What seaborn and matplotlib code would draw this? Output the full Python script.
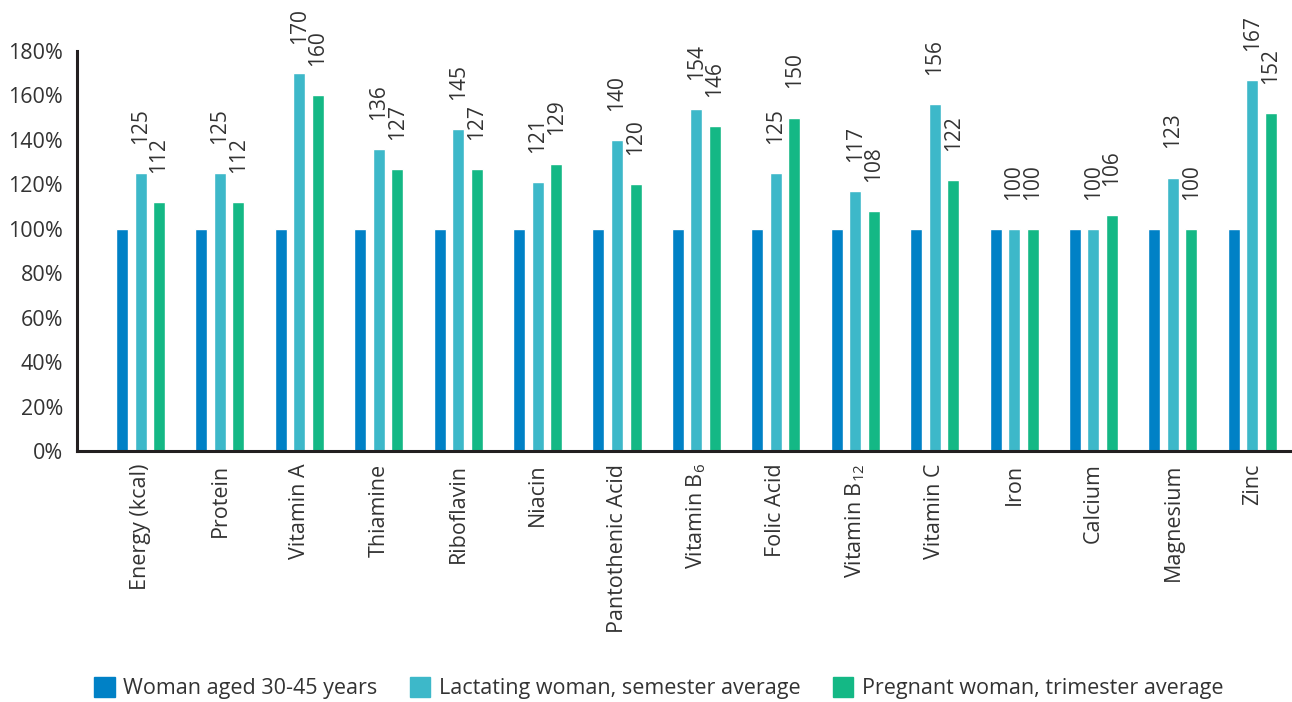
import matplotlib
matplotlib.use("Agg")
import matplotlib.pyplot as plt
from matplotlib.ticker import FuncFormatter
import seaborn as sns
import pandas as pd

nutrients = [
    "Energy (kcal)", "Protein", "Vitamin A", "Thiamine", "Riboflavin",
    "Niacin", "Pantothenic Acid", r"Vitamin B$\mathregular{_6}$", "Folic Acid",
    r"Vitamin B$\mathregular{_{12}}$", "Vitamin C", "Iron", "Calcium",
    "Magnesium", "Zinc",
]
groups = [
    "Woman aged 30-45 years",
    "Lactating woman, semester average",
    "Pregnant woman, trimester average",
]
woman = [100] * 15
lactating = [125, 125, 170, 136, 145, 121, 140, 154, 125, 117, 156, 100, 100, 123, 167]
pregnant = [112, 112, 160, 127, 127, 129, 120, 146, 150, 108, 122, 100, 106, 100, 152]
colors = ["#0081C6", "#3DB8C9", "#14B885"]
y_ticks = [0, 20, 40, 60, 80, 100, 120, 140, 160, 180]

sns.set_theme(style="white")
plt.rcParams["font.family"] = ["Open Sans", "DejaVu Sans"]
plt.rcParams["mathtext.fontset"] = "custom"
plt.rcParams["mathtext.rm"] = "Open Sans"

df = pd.DataFrame({
    "nutrient": nutrients * 3,
    "group": [g for g in groups for _ in nutrients],
    "value": woman + lactating + pregnant,
})

fig = plt.figure(figsize=(12.92, 7.02), dpi=100)
ax = fig.add_axes([0.0596, 0.3575, 0.9404, 0.570])

sns.barplot(data=df, x="nutrient", y="value", hue="group", hue_order=groups,
            palette=colors, width=0.7, gap=0.35, saturation=1, ax=ax,
            legend=False)

text_color = "#333333"
fs = 15.5
for cont in ax.containers[1:]:
    ax.bar_label(cont, fmt="%d", rotation=90, padding=21, fontsize=15,
                 color=text_color)

ax.set_ylim(0, 180)
ax.set_xlim(-0.8, 14.5)
ax.set_yticks(y_ticks)
ax.yaxis.set_major_formatter(FuncFormatter(lambda v, p: f"{v:.0f}%"))
ax.tick_params(axis="y", length=0, pad=10, labelsize=fs, labelcolor=text_color)
ax.tick_params(axis="x", length=0, pad=9, labelsize=fs, labelcolor=text_color,
               labelrotation=90)
ax.set_xlabel("")
ax.set_ylabel("")
for s in ["top", "right"]:
    ax.spines[s].set_visible(False)
for s in ["left", "bottom"]:
    ax.spines[s].set_color("#231F20")
    ax.spines[s].set_linewidth(2.2)

handles = [plt.Rectangle((0, 0), 1, 1, color=c) for c in colors]
fig.legend(handles, groups, loc="center", bbox_to_anchor=(0.51, 0.02),
           ncol=3, frameon=False, fontsize=fs, handlelength=0.95,
           handleheight=1.05, handletextpad=0.4, columnspacing=1.5,
           labelcolor=text_color)

fig.savefig("out.png", dpi=100)
